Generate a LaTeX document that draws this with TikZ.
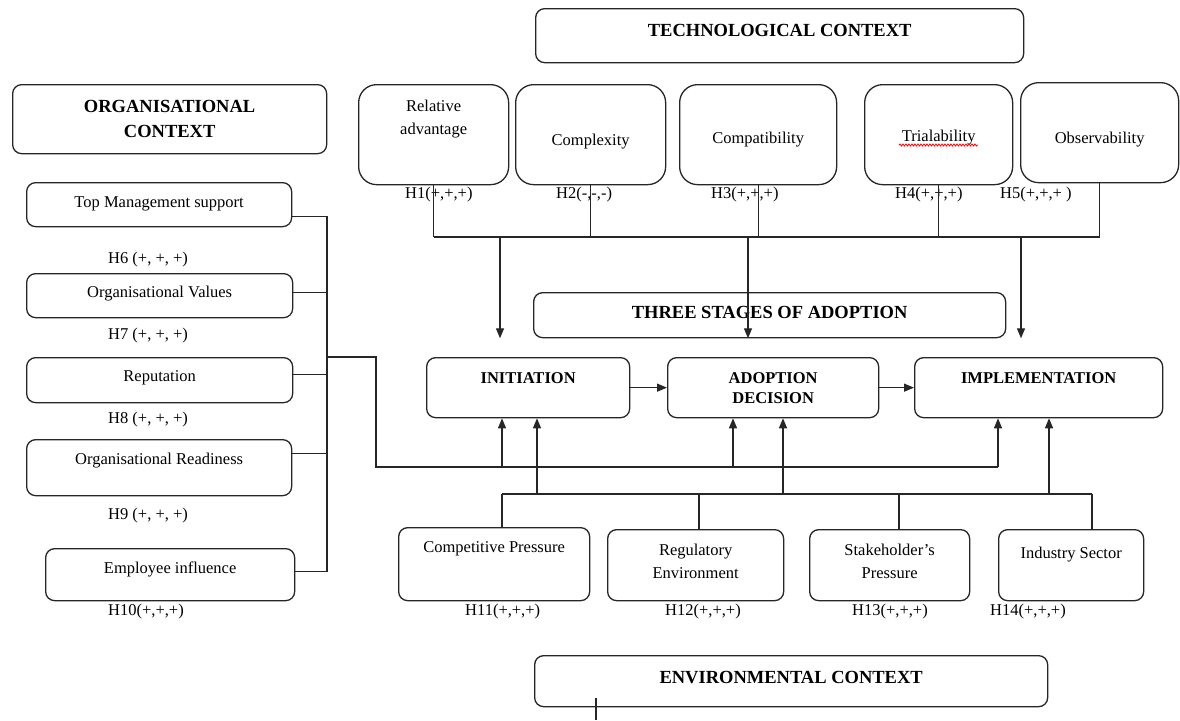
\documentclass[tikz,border=0pt]{standalone}
\usepackage{fontspec}
\setmainfont{Liberation Serif}
\usetikzlibrary{arrows.meta,decorations.pathmorphing}

\newcommand\labfont{\fontsize{16.5}{23}\selectfont}
\newcommand\headfont{\fontsize{18.5}{25}\selectfont\bfseries}
\newcommand\stagefont{\fontsize{16.5}{20}\selectfont\bfseries}

\begin{document}
\begin{tikzpicture}[
    x=1pt, y=-1pt,
    box/.style={draw=black!85, line width=1.3pt, rounded corners=9pt, align=center,
                anchor=north west, inner xsep=2pt, inner ysep=0pt, font=\labfont},
    factor/.style={box, rounded corners=18pt},
    head/.style={box, font=\headfont},
    stage/.style={box, font=\stagefont},
    hyp/.style={anchor=base west, inner sep=0pt, font=\labfont},
    link/.style={draw=black!85, line width=1.3pt},
    flow/.style={link, -{Triangle[length=10pt,width=8pt]}},
    spell/.style={draw=red, line width=0.8pt,
                  decorate, decoration={snake, amplitude=1pt, segment length=3pt}}]

  \useasboundingbox (0,0) rectangle (1180,720);

  % headings
  \node[head, minimum width=488pt, text height=28pt, text depth=26pt] (techCtx) at (535,8)
    {TECHNOLOGICAL CONTEXT};
  \node[head, minimum width=314pt, text height=53pt, text depth=16pt] (orgCtx) at (12,84)
    {ORGANISATIONAL\\CONTEXT};
  \node[head, minimum width=472pt, text height=26pt, text depth=19pt] (stagesHdr) at (533,292)
    {THREE STAGES OF ADOPTION};
  \node[head, minimum width=513pt, text height=28pt, text depth=23pt] (envCtx) at (534,655)
    {ENVIRONMENTAL CONTEXT};

  % technological factors
  \node[factor, minimum width=150pt, text height=49.5pt, text depth=50.5pt] (relAdv) at (358,84)
    {Relative\\advantage};
  \node[factor, minimum width=150pt, text height=60.5pt, text depth=39.5pt] (cmplx) at (515,84)
    {Complexity};
  \node[factor, minimum width=157pt, text height=58.5pt, text depth=41.5pt] (compat) at (679,84)
    {Compatibility};
  \node[factor, minimum width=148pt, text height=56.5pt, text depth=43.5pt] (trial) at (864,84)
    {Trialability};
  \node[factor, minimum width=158pt, text height=60.5pt, text depth=39.5pt] (observ) at (1020,82)
    {Observability};

  \node[hyp] (h1) at (405,198.5) {H1(+,+,+)};
  \node[hyp] (h2) at (556,198.5) {H2(-,-,-)};
  \node[hyp] (h3) at (711,198.5) {H3(+,+,+)};
  \node[hyp] (h4) at (895,198.5) {H4(+,+,+)};
  \node[hyp] (h5) at (1000,198.5) {H5(+,+,+ )};

  % organisational factors
  \node[box, minimum width=265pt, text height=25pt, text depth=19pt] (topMgmt) at (26,182)
    {Top Management support};
  \node[box, minimum width=266pt, text height=24pt, text depth=20pt] (orgValues) at (26,273)
    {Organisational Values};
  \node[box, minimum width=266pt, text height=24pt, text depth=21pt] (reput) at (26,357)
    {Reputation};
  \node[box, minimum width=265pt, text height=25pt, text depth=31pt] (orgReady) at (26,439)
    {Organisational Readiness};
  \node[box, minimum width=249pt, text height=25pt, text depth=27pt] (empInfl) at (45,548)
    {Employee influence};

  \node[hyp] (h6) at (108,263) {H6 (+, +, +)};
  \node[hyp] (h7) at (108,339) {H7 (+, +, +)};
  \node[hyp] (h8) at (108,423) {H8 (+, +, +)};
  \node[hyp] (h9) at (108,519) {H9 (+, +, +)};
  \node[hyp] (h10) at (108,615) {H10(+,+,+)};

  % stages
  \node[stage, minimum width=203pt, text height=26pt, text depth=34pt] (initiation) at (426,357)
    {INITIATION};
  \node[stage, minimum width=211pt, text height=46pt, text depth=14pt] (adoption) at (667,357)
    {ADOPTION\\DECISION};
  \node[stage, minimum width=248pt, text height=26pt, text depth=34pt] (implementation) at (914,357)
    {IMPLEMENTATION};

  % environmental factors
  \node[box, minimum width=191pt, text height=24.5pt, text depth=48.5pt] (compPress) at (398,527)
    {Competitive Pressure};
  \node[box, minimum width=176pt, text height=48.5pt, text depth=22.5pt] (regEnv) at (607,529)
    {Regulatory\\Environment};
  \node[box, minimum width=160pt, text height=48.5pt, text depth=22.5pt] (stakePress) at (809,529)
    {Stakeholder’s\\Pressure};
  \node[box, minimum width=145pt, text height=28.5pt, text depth=42.5pt] (indSector) at (998,529)
    {Industry Sector};

  \node[hyp] (h11) at (465,615.5) {H11(+,+,+)};
  \node[hyp] (h12) at (665,615.5) {H12(+,+,+)};
  \node[hyp] (h13) at (852,615.5) {H13(+,+,+)};
  \node[hyp] (h14) at (990,615.5) {H14(+,+,+)};

  % bus points
  \coordinate (techBus) at (0,237);
  \coordinate (tA) at (500,237);
  \coordinate (tB) at (748,237);
  \coordinate (tC) at (1021,237);
  \coordinate (orgBus) at (327,0);
  \coordinate (orgTap) at (327,357);
  \coordinate (orgRail) at (376,467);
  \coordinate (oA) at (502,467);
  \coordinate (oB) at (733,467);
  \coordinate (oC) at (998,467);
  \coordinate (eA) at (502,494);
  \coordinate (eB) at (699,494);
  \coordinate (eC) at (899,494);
  \coordinate (eD) at (1092,494);
  \coordinate (uA) at (537,494);
  \coordinate (uB) at (783,494);
  \coordinate (uC) at (1049,494);
  \coordinate (envTailTop) at (596,698);
  \coordinate (envTail) at (596,720);
  \coordinate (waveL) at (899,145);
  \coordinate (waveR) at (978,145);

  \draw[spell] (waveL) -- (waveR);

  % technological context
  \foreach \f in {relAdv, cmplx, compat, trial, observ}
    \draw[link] (\f.south) -- (\f.south |- techBus);
  \draw[link] (relAdv.south |- techBus) -- (observ.south |- techBus);
  \foreach \t in {tA, tB, tC}
    \draw[flow] (\t) -- (\t |- stagesHdr.south);

  % organisational context
  \draw[link] ([yshift=-12pt]topMgmt.east) -- ([yshift=-12pt]topMgmt.east -| orgBus)
    -- ([yshift=3pt]empInfl.east -| orgBus) -- ([yshift=3pt]empInfl.east);
  \draw[link] ([yshift=3pt]orgValues.east) -- ([yshift=3pt]orgValues.east -| orgBus);
  \draw[link] ([yshift=6pt]reput.east) -- ([yshift=6pt]reput.east -| orgBus);
  \draw[link] ([yshift=14pt]orgReady.east) -- ([yshift=14pt]orgReady.east -| orgBus);
  \draw[link] (orgTap) -| (orgRail) -- (oC);
  \foreach \o/\s in {oA/initiation, oB/adoption, oC/implementation}
    \draw[flow] (\o) -- (\o |- \s.south);

  % stages
  \draw[flow] (initiation.east) -- (adoption.west);
  \draw[flow] (adoption.east) -- (implementation.west);

  % environmental context
  \draw[link] (eA) -- (eD);
  \foreach \e/\b in {eA/compPress, eB/regEnv, eC/stakePress, eD/indSector}
    \draw[link] (\e) -- (\e |- \b.north);
  \foreach \u/\s in {uA/initiation, uB/adoption, uC/implementation}
    \draw[flow] (\u) -- (\u |- \s.south);
  \draw[link] (envTailTop) -- (envTail);
\end{tikzpicture}
\end{document}
